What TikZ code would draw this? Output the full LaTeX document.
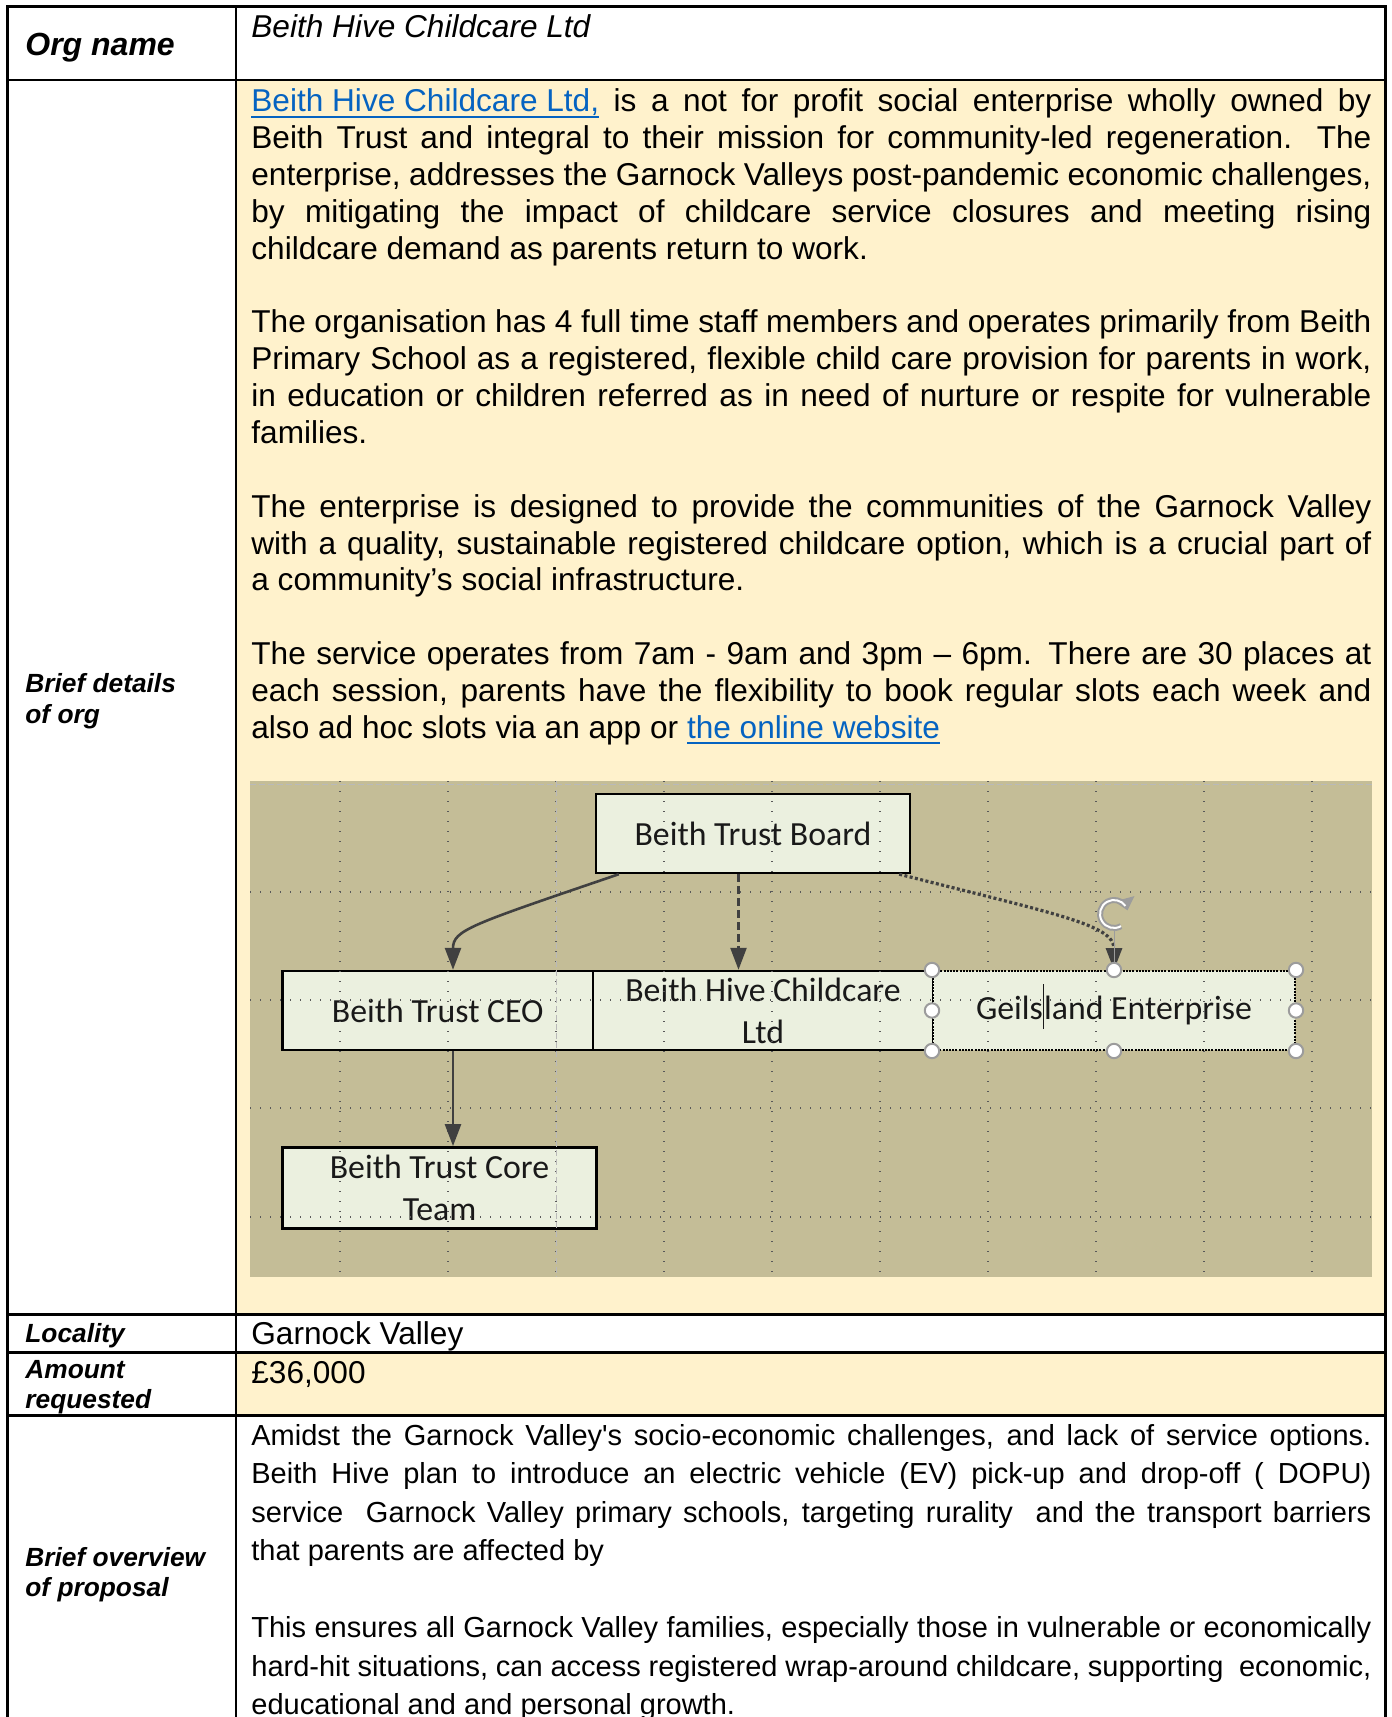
\documentclass[tikz,border=0pt]{standalone}
\usepackage{fontspec}
\setmainfont{Liberation Sans}[WordSpace={1,1.5,2.4}]
\newfontfamily\chartfont{Carlito}
\usepackage{xcolor}
\usepackage{tikz}
\usetikzlibrary{arrows.meta,positioning,calc}

\definecolor{cellyellow}{HTML}{FFF2CC}
\definecolor{chartbg}{HTML}{C4BD97}
\definecolor{boxfill}{HTML}{EBF0DF}
\definecolor{linkblue}{HTML}{0563C1}
\definecolor{connector}{HTML}{404040}
\definecolor{handlegray}{HTML}{9C9C9C}

\newcommand{\weblink}[1]{\leavevmode{\color{linkblue}\setbox0\hbox{#1}\rlap{\rule[-3pt]{\wd0}{1pt}}\box0}}
\hyphenpenalty=10000
\exhyphenpenalty=10000
\tolerance=10000

\begin{document}
\begin{tikzpicture}[x=0.5pt, y=-0.5pt, >={Triangle[length=11pt,width=8pt]},
  tablerule/.style={line width=1.25pt, black},
  rowlabel/.style={anchor=base west, inner sep=0pt, font=\fontsize{13.15}{15.3}\selectfont\bfseries\itshape},
  bigtext/.style={anchor=base west, inner sep=0pt, font=\fontsize{15.8}{18.43}\selectfont},
  smalltext/.style={anchor=base west, inner sep=0pt, font=\fontsize{14.5}{19.25}\selectfont},
  orgbox/.style={draw=black, line width=1.2pt, fill=boxfill, text=black!90, font=\chartfont\fontsize{16.9}{21}\selectfont, align=center, inner sep=0pt, minimum height=39.5pt},
  solidarrow/.style={connector, line width=1.3pt},
  dasharrow/.style={connector, line width=1.2pt, dash pattern=on 4pt off 2pt},
  dotarrow/.style={connector, line width=1.6pt, dash pattern=on 1.5pt off 1.2pt},
  griddot/.style={gray!70!black, line width=0.6pt, dash pattern=on 0.6pt off 4.4pt},
  gridmajor/.style={gray!55, line width=0.5pt, dash pattern=on 3pt off 1.5pt},
  selhandle/.style={draw=handlegray, fill=white, line width=1pt}]
\useasboundingbox (0,0) rectangle (1391,1717);

% Cell shading
\fill[cellyellow] (236,80) rectangle (1385.5,1314.5);
\fill[cellyellow] (236,1352.5) rectangle (1385.5,1415.5);

% Table lines
\draw[tablerule] (7.5,1720) -- (7.5,6.5) -- (1385.5,6.5) -- (1385.5,1720);
\draw[tablerule] (236,6.5) -- (236,1720);
\foreach \ry in {80,1314.5,1352.5,1415.5}
  \draw[tablerule] (7.5,\ry) -- (1385.5,\ry);

% Row labels
\node[rowlabel, font=\fontsize{16}{18.4}\selectfont\bfseries\itshape] (orglbl) at (25,55.5) {Org name};
\node[rowlabel] (detailslbl) at (25,692.5) {\parbox[t]{100pt}{Brief details\\of org}};
\node[rowlabel] (localitylbl) at (25,1342.5) {Locality};
\node[rowlabel] (amountlbl) at (25,1378) {\parbox[t]{100pt}{Amount\\requested}};
\node[rowlabel] (overviewlbl) at (25,1566) {\parbox[t]{100pt}{Brief overview\\of proposal}};

% Cell texts
\node[bigtext, font=\fontsize{15.8}{18.43}\selectfont\itshape] (orgtitle) at (251,38) {Beith Hive Childcare Ltd};
\node[bigtext] (details) at (251,111.8) {\parbox[t]{560pt}{%
\weblink{Beith Hive Childcare Ltd,} is a not for profit social enterprise wholly owned by\linebreak
Beith Trust and integral to their mission for community-led regeneration.  The\linebreak
enterprise, addresses the Garnock Valleys post-pandemic economic challenges,\linebreak
by mitigating the impact of childcare service closures and meeting rising\linebreak
childcare demand as parents return to work.\par
\vspace{\baselineskip}
The organisation has 4 full time staff members and operates primarily from Beith\linebreak
Primary School as a registered, flexible child care provision for parents in work,\linebreak
in education or children referred as in need of nurture or respite for vulnerable\linebreak
families.\par
\vspace{\baselineskip}
The enterprise is designed to provide the communities of the Garnock Valley\linebreak
with a quality, sustainable registered childcare option, which is a crucial part of\linebreak
a community’s social infrastructure.\par
\vspace{\baselineskip}
The service operates from 7am - 9am and 3pm – 6pm.  There are 30 places at\linebreak
each session, parents have the flexibility to book regular slots each week and\linebreak
also ad hoc slots via an app or \weblink{the online website}}};
\node[bigtext] (locality) at (251,1344.5) {Garnock Valley};
\node[bigtext] (amount) at (251,1383) {£36,000};
\node[smalltext] (overview) at (251,1445) {\parbox[t]{560pt}{%
Amidst the Garnock Valley\textquotesingle s socio-economic challenges, and lack of service options.\linebreak
Beith Hive plan to introduce an electric vehicle (EV) pick-up and drop-off ( DOPU)\linebreak
service\ \ Garnock Valley primary schools, targeting rurality\ \ and the transport barriers\linebreak
that parents are affected by\par
\vspace{\baselineskip}
This ensures all Garnock Valley families, especially those in vulnerable or economically\linebreak
hard-hit situations, can access registered wrap-around childcare, supporting\ \ economic,\linebreak
educational and and personal growth.}};

% Structure chart
\fill[chartbg] (250,781) rectangle (1372,1277);
\node[orgbox, minimum width=157pt] (board) at (753,833.5) {Beith Trust Board};
\node[orgbox, minimum width=155.25pt] (ceo) at (437.75,1010.5) {Beith Trust CEO};
\node[orgbox, minimum width=170pt] (hive) at (763,1010.5) {Beith Hive Childcare\\Ltd};
\node[orgbox, minimum width=181pt, line width=1pt, dash pattern=on 1pt off 0.6pt] (geils) at (1114,1010.5) {Geils\smash{\rule[-4.8pt]{0.6pt}{22.4pt}}land Enterprise};
\node[orgbox, minimum width=157pt, minimum height=40.5pt] (core) at (439.5,1187.8) {Beith Trust Core\\Team};

% Canvas grid
\foreach \gx in {340,448,...,1312}
  \draw[griddot] (\gx,781) -- (\gx,1277);
\foreach \gy in {892,1000,1108,1217}
  \draw[griddot] (250,\gy) -- (1372,\gy);
\draw[gridmajor] (556,781) -- (556,1277);
\draw[gridmajor] (250,784) -- (1372,784);

% Connections
\coordinate (spine) at (453,0);
\coordinate (hivein) at (738.5,0);
\draw[solidarrow, ->] ([xshift=12pt]board.south west) .. controls (470,925) and (453,930) .. (ceo.north -| spine);
\draw[dasharrow, ->] (board.south -| hivein) -- (hive.north -| hivein);
\draw[dotarrow, ->] ([xshift=-6pt]board.south east) .. controls (1060,915) and (1114,925) .. (geils.north);
\draw[solidarrow, ->] (ceo.south -| spine) -- (core.north -| spine);

% Selection handles
\coordinate (rot) at ([yshift=28pt]geils.north);
\draw[handlegray, line width=0.5pt] (geils.north) -- ([yshift=-8pt]rot);
\begin{scope}[shift={(rot)}, x=1pt, y=1pt]
  \draw[handlegray, line width=3pt, -{Triangle[length=6pt,width=10pt]}] (300:7) arc[start angle=300, end angle=15, radius=7];
  \draw[white, line width=1pt] (300:7) arc[start angle=300, end angle=35, radius=7];
\end{scope}
\foreach \side in {north west,north,north east,west,east,south west,south,south east}
  \draw[selhandle] (geils.\side) circle[radius=3.6pt];
\end{tikzpicture}
\end{document}
